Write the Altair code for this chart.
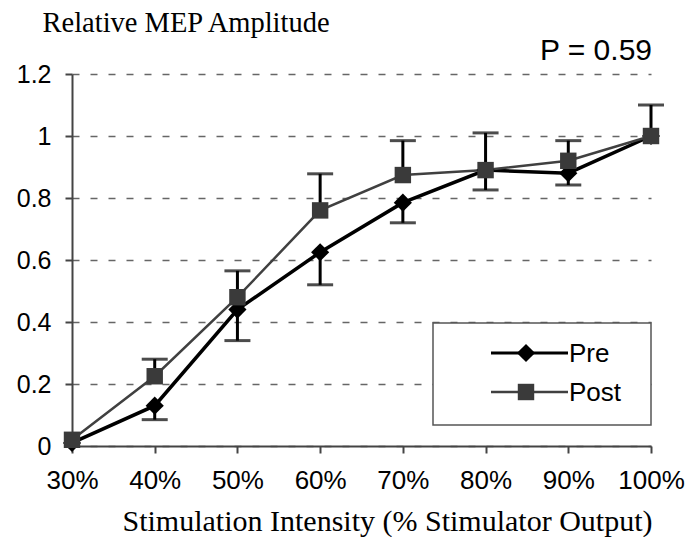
import altair as alt
import pandas as pd

intensity = [30, 40, 50, 60, 70, 80, 90, 100]
pre_values = [0.01, 0.13, 0.44, 0.625, 0.785, 0.89, 0.88, 1.0]
post_values = [0.02, 0.225, 0.48, 0.76, 0.874, 0.89, 0.92, 1.0]
pre_lower = [None, 0.085, 0.34, 0.52, 0.72, 0.826, 0.842, None]
post_upper = [None, 0.28, 0.565, 0.878, 0.985, 1.01, 0.985, 1.10]
y_ticks = [0, 0.2, 0.4, 0.6, 0.8, 1.0, 1.2]

pre_df = pd.DataFrame({"x": intensity, "y": pre_values})
post_df = pd.DataFrame({"x": intensity, "y": post_values})
pre_err = pd.DataFrame({"x": intensity, "y": pre_values, "e": pre_lower}).dropna()
post_err = pd.DataFrame({"x": intensity, "y": post_values, "e": post_upper}).dropna()

SANS = "Liberation Sans"
SERIF = "Liberation Serif"

xs = alt.Scale(domain=[30, 100], nice=False, zero=False)
ys = alt.Scale(domain=[0, 1.2], nice=False)

x_axis = alt.Axis(values=intensity, labelExpr="datum.value + '%'", labelFont=SANS,
                  labelFontSize=26, labelColor="black", labelPadding=14,
                  labelOverlap=False, labelBound=False, labelFlush=False,
                  tickSize=7, tickColor="#444", tickWidth=2, domainColor="#444",
                  domainWidth=2, grid=False,
                  title="Stimulation Intensity (% Stimulator Output)",
                  titleFont=SERIF, titleFontSize=30, titleFontWeight="normal",
                  titleColor="black", titleX=315, titleY=84, titleBaseline="alphabetic")
y_axis = alt.Axis(values=y_ticks, format="~g", labelFont=SANS, labelFontSize=25,
                  labelColor="black", labelPadding=14, tickSize=7, tickColor="#444",
                  labelOverlap=False,
                  tickWidth=2, domainColor="#444", domainWidth=2,
                  grid=True, gridDash=[7, 11], gridColor="#666", gridWidth=1.6,
                  title="Relative MEP Amplitude", titleFont=SERIF, titleFontSize=28.5,
                  titleFontWeight="normal", titleColor="black", titleAngle=0,
                  titleAlign="left", titleX=-30, titleY=-43, titleBaseline="alphabetic")

base_axes = alt.Chart(pre_df).mark_point(opacity=0).encode(
    x=alt.X("x:Q", scale=xs, axis=x_axis),
    y=alt.Y("y:Q", scale=ys, axis=y_axis),
)

# error bars
pre_rule = alt.Chart(pre_err).mark_rule(color="black", strokeWidth=3).encode(
    x=alt.X("x:Q", scale=xs), y=alt.Y("y:Q", scale=ys), y2="e:Q")
pre_cap = alt.Chart(pre_err).mark_tick(color="black", orient="horizontal", size=26,
                                        thickness=3).encode(
    x=alt.X("x:Q", scale=xs), y=alt.Y("e:Q", scale=ys))
post_rule = alt.Chart(post_err).mark_rule(color="black", strokeWidth=3).encode(
    x=alt.X("x:Q", scale=xs), y=alt.Y("y:Q", scale=ys), y2="e:Q")
post_cap = alt.Chart(post_err).mark_tick(color="black", orient="horizontal", size=26,
                                          thickness=3).encode(
    x=alt.X("x:Q", scale=xs), y=alt.Y("e:Q", scale=ys))

pre_line = alt.Chart(pre_df).mark_line(color="black", strokeWidth=3.5).encode(
    x=alt.X("x:Q", scale=xs), y=alt.Y("y:Q", scale=ys))
pre_pts = alt.Chart(pre_df).mark_point(shape="diamond", filled=True, color="black",
                                        size=330, opacity=1).encode(
    x=alt.X("x:Q", scale=xs), y=alt.Y("y:Q", scale=ys))
post_line = alt.Chart(post_df).mark_line(color="#404040", strokeWidth=2.5).encode(
    x=alt.X("x:Q", scale=xs), y=alt.Y("y:Q", scale=ys))
post_pts = alt.Chart(post_df).mark_point(shape="square", filled=True, color="#3a3a3a",
                                          size=270, opacity=1).encode(
    x=alt.X("x:Q", scale=xs), y=alt.Y("y:Q", scale=ys))

one = pd.DataFrame({"k": [0]})

p_text = alt.Chart(one).mark_text(text="P = 0.59", font=SANS, fontSize=30,
                                   align="right", baseline="alphabetic",
                                   color="black").encode(
    x=alt.value(580), y=alt.value(-14))

leg_box = alt.Chart(one).mark_rect(fill="white", stroke="#555", strokeWidth=1.5).encode(
    x=alt.value(361), x2=alt.value(579), y=alt.value(249), y2=alt.value(351))
leg_pre_line = alt.Chart(one).mark_rule(color="black", strokeWidth=3).encode(
    x=alt.value(419), x2=alt.value(496), y=alt.value(279))
leg_pre_pt = alt.Chart(one).mark_point(shape="diamond", filled=True, color="black",
                                        size=330, opacity=1).encode(
    x=alt.value(454), y=alt.value(279))
leg_pre_txt = alt.Chart(one).mark_text(text="Pre", font=SANS, fontSize=26, align="left",
                                        baseline="middle", color="black").encode(
    x=alt.value(497), y=alt.value(280))
leg_post_line = alt.Chart(one).mark_rule(color="#404040", strokeWidth=2.5).encode(
    x=alt.value(419), x2=alt.value(496), y=alt.value(318))
leg_post_pt = alt.Chart(one).mark_point(shape="square", filled=True, color="#3a3a3a",
                                         size=270, opacity=1).encode(
    x=alt.value(454), y=alt.value(318))
leg_post_txt = alt.Chart(one).mark_text(text="Post", font=SANS, fontSize=26, align="left",
                                         baseline="middle", color="black").encode(
    x=alt.value(497), y=alt.value(319))

chart = alt.layer(
    base_axes, pre_rule, pre_cap, post_rule, post_cap,
    pre_line, post_line, pre_pts, post_pts,
    p_text, leg_box, leg_pre_line, leg_pre_pt, leg_pre_txt,
    leg_post_line, leg_post_pt, leg_post_txt,
).properties(
    width=579, height=372,
    autosize=alt.AutoSizeParams(type="none"),
    padding={"left": 72, "top": 74, "right": 36, "bottom": 91},
    background="white",
).configure_view(stroke=None)

chart.save("out.html", embed_options={"renderer": "svg", "actions": False})
